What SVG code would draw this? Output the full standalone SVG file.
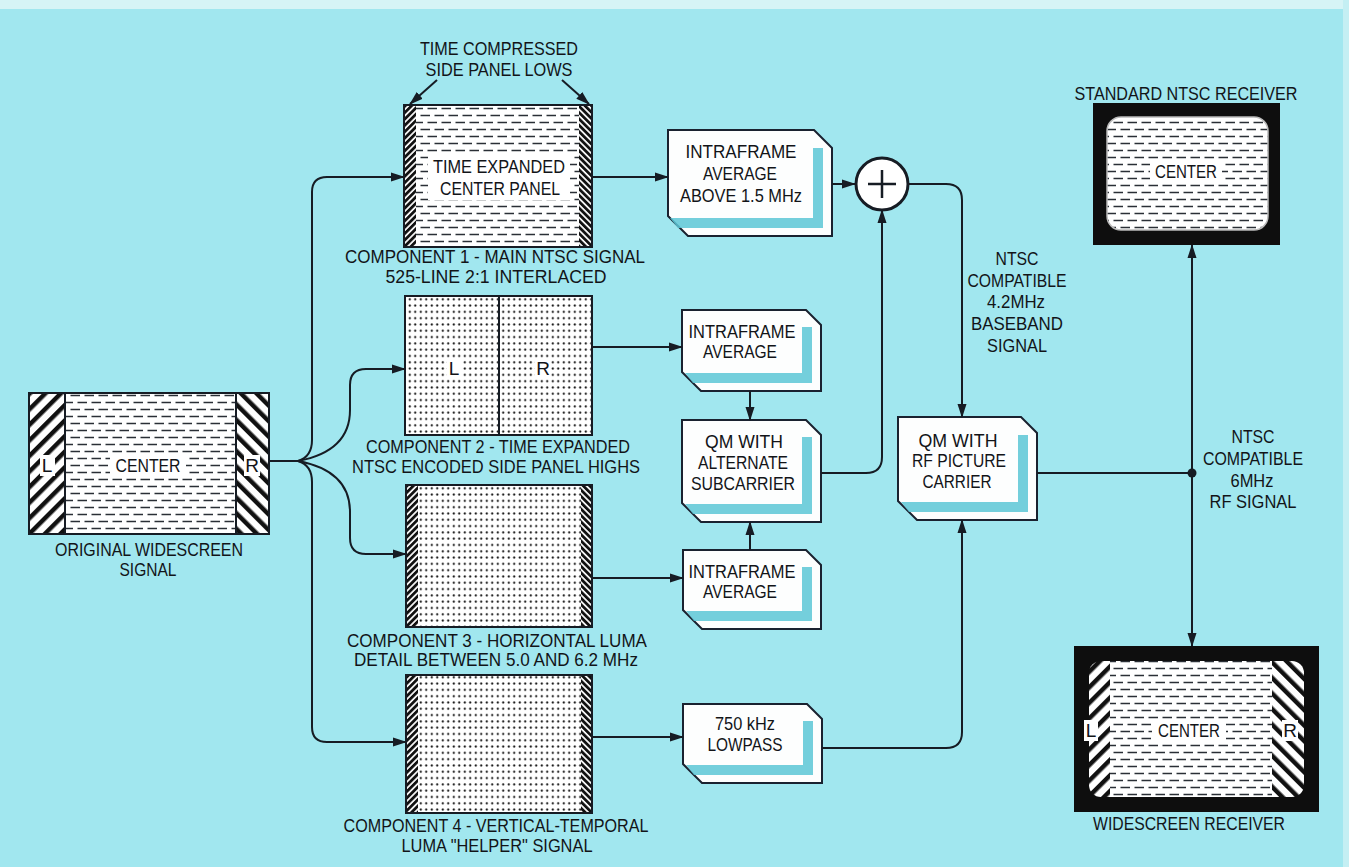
<svg xmlns="http://www.w3.org/2000/svg" width="1349" height="867" viewBox="0 0 1349 867">
<style>
text{font-family:"Liberation Sans",Arial,sans-serif;font-size:19px;fill:#121418;text-anchor:middle}
.ln{fill:none;stroke:#161c24;stroke-width:2}
.box{stroke:#161c24;stroke-width:2}
.card{fill:#fdfefe;stroke:#1a2230;stroke-width:2}
.band{fill:#5cc7d6;opacity:0.85}
.ko{fill:#fff}
</style>
<defs>
<pattern id="dash" width="14" height="14" patternUnits="userSpaceOnUse">
<rect width="14" height="14" fill="#fff"/>
<path d="M0.5,3.5H10 M7.5,10.5H14 M0,10.5H3" stroke="#2a2f36" stroke-width="1.4"/>
</pattern>
<pattern id="dots" width="5.5" height="6.3" patternUnits="userSpaceOnUse">
<rect width="5.5" height="6.3" fill="#fff"/>
<circle cx="2.75" cy="3.15" r="1.1" fill="#1a1a1a"/>
</pattern>
<pattern id="hatchL" width="11" height="11" patternUnits="userSpaceOnUse" patternTransform="rotate(45)">
<rect width="11" height="11" fill="#fff"/>
<rect width="4.5" height="11" fill="#111"/>
</pattern>
<pattern id="hatchR" width="11" height="11" patternUnits="userSpaceOnUse" patternTransform="rotate(-45)">
<rect width="11" height="11" fill="#fff"/>
<rect width="4.5" height="11" fill="#111"/>
</pattern>
<pattern id="thinL" width="4.5" height="4.5" patternUnits="userSpaceOnUse" patternTransform="rotate(45)">
<rect width="4.5" height="4.5" fill="#fff"/>
<rect width="2.8" height="4.5" fill="#111"/>
</pattern>
<pattern id="thinR" width="4.5" height="4.5" patternUnits="userSpaceOnUse" patternTransform="rotate(-45)">
<rect width="4.5" height="4.5" fill="#fff"/>
<rect width="2.8" height="4.5" fill="#111"/>
</pattern>
<marker id="ah" markerWidth="14" markerHeight="10" refX="13" refY="5" orient="auto" markerUnits="userSpaceOnUse">
<path d="M0,0.5 L14,5 L0,9.5 Z" fill="#161c24"/>
</marker>
<clipPath id="wsClip"><rect x="1089" y="661" width="215" height="136" rx="12"/></clipPath>
</defs>

<rect width="1349" height="867" fill="#a1e7ef"/>
<rect width="1349" height="9" fill="#d6f4f6"/>
<rect x="1343" y="0" width="6" height="867" fill="#c4eff3"/>

<g id="original">
<rect x="29" y="393" width="36" height="141" fill="url(#hatchL)"/>
<rect x="65" y="393" width="171" height="141" fill="url(#dash)"/>
<rect x="236" y="393" width="33" height="141" fill="url(#hatchR)"/>
<rect x="29" y="393" width="240" height="141" fill="none" class="box"/>
<line x1="65" y1="393" x2="65" y2="534" class="box"/>
<line x1="236" y1="393" x2="236" y2="534" class="box"/>
<rect x="40" y="455" width="15" height="21" class="ko"/>
<rect x="110" y="455" width="76" height="21" class="ko"/>
<rect x="244" y="455" width="16" height="21" class="ko"/>
<text x="47" y="472">L</text>
<text x="148" y="472" textLength="65" lengthAdjust="spacingAndGlyphs">CENTER</text>
<text x="252" y="472">R</text>
<text x="149" y="556" textLength="188" lengthAdjust="spacingAndGlyphs">ORIGINAL WIDESCREEN</text>
<text x="148" y="576" textLength="57" lengthAdjust="spacingAndGlyphs">SIGNAL</text>
</g>

<g id="comp1">
<text x="499" y="55" textLength="158" lengthAdjust="spacingAndGlyphs">TIME COMPRESSED</text>
<text x="499" y="76" textLength="147" lengthAdjust="spacingAndGlyphs">SIDE PANEL LOWS</text>
<rect x="404" y="105" width="12" height="142" fill="url(#thinL)"/>
<rect x="416" y="105" width="163" height="142" fill="url(#dash)"/>
<rect x="579" y="105" width="13" height="142" fill="url(#thinR)"/>
<rect x="404" y="105" width="188" height="142" fill="none" class="box"/>
<rect x="428" y="153" width="142" height="47" class="ko"/>
<text x="499" y="173" textLength="132" lengthAdjust="spacingAndGlyphs">TIME EXPANDED</text>
<text x="500" y="195" textLength="120" lengthAdjust="spacingAndGlyphs">CENTER PANEL</text>
<text x="495" y="263" textLength="300" lengthAdjust="spacingAndGlyphs">COMPONENT 1 - MAIN NTSC SIGNAL</text>
<text x="496" y="283" textLength="221" lengthAdjust="spacingAndGlyphs">525-LINE 2:1 INTERLACED</text>
</g>

<g id="comp2">
<rect x="405" y="296" width="187" height="139" fill="url(#dots)" class="box"/>
<line x1="499" y1="296" x2="499" y2="435" class="box"/>
<rect x="447" y="359" width="15" height="19" class="ko"/>
<rect x="535" y="359" width="16" height="19" class="ko"/>
<text x="454" y="375">L</text>
<text x="543" y="375">R</text>
<text x="498" y="453" textLength="264" lengthAdjust="spacingAndGlyphs">COMPONENT 2 - TIME EXPANDED</text>
<text x="496" y="473" textLength="288" lengthAdjust="spacingAndGlyphs">NTSC ENCODED SIDE PANEL HIGHS</text>
</g>

<g id="comp3">
<rect x="406" y="485" width="12" height="142" fill="url(#thinL)"/>
<rect x="418" y="485" width="163" height="142" fill="url(#dots)"/>
<rect x="581" y="485" width="11" height="142" fill="url(#thinR)"/>
<rect x="406" y="485" width="186" height="142" fill="none" class="box"/>
<text x="497" y="647" textLength="300" lengthAdjust="spacingAndGlyphs">COMPONENT 3 - HORIZONTAL LUMA</text>
<text x="496" y="666" textLength="284" lengthAdjust="spacingAndGlyphs">DETAIL BETWEEN 5.0 AND 6.2 MHz</text>
</g>

<g id="comp4">
<rect x="406" y="675" width="12" height="138" fill="url(#thinL)"/>
<rect x="418" y="675" width="163" height="138" fill="url(#dots)"/>
<rect x="581" y="675" width="11" height="138" fill="url(#thinR)"/>
<rect x="406" y="675" width="186" height="138" fill="none" class="box"/>
<text x="496" y="832" textLength="305" lengthAdjust="spacingAndGlyphs">COMPONENT 4 - VERTICAL-TEMPORAL</text>
<text x="497" y="852" textLength="191" lengthAdjust="spacingAndGlyphs">LUMA "HELPER" SIGNAL</text>
</g>

<g id="avgHigh">
<polygon class="card" points="668,130 814,130 832,148 832,236 688,236 668,216"/>
<path class="band" d="M813,148H823V228H678L670,218H813Z"/>
<text x="741" y="158" textLength="111" lengthAdjust="spacingAndGlyphs">INTRAFRAME</text>
<text x="740" y="180" textLength="74" lengthAdjust="spacingAndGlyphs">AVERAGE</text>
<text x="741" y="202" textLength="122" lengthAdjust="spacingAndGlyphs">ABOVE 1.5 MHz</text>
</g>

<g id="avg2">
<polygon class="card" points="682,310 806,310 821,325 821,391 701,391 682,372"/>
<path class="band" d="M802,327H812V383H693L685,373H802Z"/>
<text x="742" y="338" textLength="107" lengthAdjust="spacingAndGlyphs">INTRAFRAME</text>
<text x="740" y="358" textLength="74" lengthAdjust="spacingAndGlyphs">AVERAGE</text>
</g>

<g id="qmAlt">
<polygon class="card" points="682,420 806,420 821,435 821,522 701,522 682,503"/>
<path class="band" d="M802,437H812V514H693L685,504H802Z"/>
<text x="744" y="448" textLength="78" lengthAdjust="spacingAndGlyphs">QM WITH</text>
<text x="743" y="469" textLength="90" lengthAdjust="spacingAndGlyphs">ALTERNATE</text>
<text x="743" y="490" textLength="104" lengthAdjust="spacingAndGlyphs">SUBCARRIER</text>
</g>

<g id="avg3">
<polygon class="card" points="683,550 806,550 821,565 821,629 702,629 683,610"/>
<path class="band" d="M802,567H812V621H694L686,611H802Z"/>
<text x="742" y="578" textLength="107" lengthAdjust="spacingAndGlyphs">INTRAFRAME</text>
<text x="740" y="598" textLength="74" lengthAdjust="spacingAndGlyphs">AVERAGE</text>
</g>

<g id="lowpass">
<polygon class="card" points="683,704 807,704 822,719 822,783 702,783 683,764"/>
<path class="band" d="M803,721H813V775H694L686,765H803Z"/>
<text x="745" y="730" textLength="60" lengthAdjust="spacingAndGlyphs">750 kHz</text>
<text x="745" y="751" textLength="75" lengthAdjust="spacingAndGlyphs">LOWPASS</text>
</g>

<g id="qmRF">
<polygon class="card" points="898,417 1021,417 1037,433 1037,520 917,520 898,501"/>
<path class="band" d="M1018,435H1028V512H909L901,502H1018Z"/>
<text x="958" y="447" textLength="79" lengthAdjust="spacingAndGlyphs">QM WITH</text>
<text x="959" y="467" textLength="94" lengthAdjust="spacingAndGlyphs">RF PICTURE</text>
<text x="957" y="488" textLength="69" lengthAdjust="spacingAndGlyphs">CARRIER</text>
</g>

<g id="sum">
<circle cx="882" cy="184" r="26" fill="#fff" stroke="#161c24" stroke-width="3"/>
<path d="M882,170V198M868,184H896" stroke="#161c24" stroke-width="2.5"/>
</g>

<g id="stdRx">
<text x="1186" y="100" textLength="223" lengthAdjust="spacingAndGlyphs">STANDARD NTSC RECEIVER</text>
<rect x="1093" y="103" width="187" height="142" fill="#0e0e0e"/>
<rect x="1107" y="117" width="161" height="113" rx="14" fill="url(#dash)" stroke="#bbb" stroke-width="1.5"/>
<rect x="1150" y="161" width="72" height="21" class="ko"/>
<text x="1186" y="178" textLength="62" lengthAdjust="spacingAndGlyphs">CENTER</text>
</g>

<g id="wideRx">
<rect x="1074" y="646" width="245" height="166" fill="#0e0e0e"/>
<g clip-path="url(#wsClip)">
<rect x="1089" y="661" width="21" height="136" fill="url(#hatchL)"/>
<rect x="1110" y="661" width="162" height="136" fill="url(#dash)"/>
<rect x="1272" y="661" width="32" height="136" fill="url(#hatchR)"/>
</g>
<rect x="1084" y="720" width="14" height="21" class="ko"/>
<rect x="1152" y="720" width="74" height="21" class="ko"/>
<rect x="1282" y="720" width="16" height="21" class="ko"/>
<text x="1091" y="737">L</text>
<text x="1189" y="737" textLength="62" lengthAdjust="spacingAndGlyphs">CENTER</text>
<text x="1290" y="737">R</text>
<text x="1189" y="830" textLength="192" lengthAdjust="spacingAndGlyphs">WIDESCREEN RECEIVER</text>
</g>

<g id="labels">
<text x="1017" y="265" textLength="43" lengthAdjust="spacingAndGlyphs">NTSC</text>
<text x="1017" y="287" textLength="99" lengthAdjust="spacingAndGlyphs">COMPATIBLE</text>
<text x="1016" y="308" textLength="58" lengthAdjust="spacingAndGlyphs">4.2MHz</text>
<text x="1017" y="330" textLength="92" lengthAdjust="spacingAndGlyphs">BASEBAND</text>
<text x="1017" y="352" textLength="60" lengthAdjust="spacingAndGlyphs">SIGNAL</text>
<text x="1253" y="443" textLength="43" lengthAdjust="spacingAndGlyphs">NTSC</text>
<text x="1253" y="465" textLength="100" lengthAdjust="spacingAndGlyphs">COMPATIBLE</text>
<text x="1252" y="487" textLength="43" lengthAdjust="spacingAndGlyphs">6MHz</text>
<text x="1253" y="508" textLength="87" lengthAdjust="spacingAndGlyphs">RF SIGNAL</text>
</g>

<g id="connectors">
<path class="ln" d="M269,461H298"/>
<path class="ln" marker-end="url(#ah)" d="M298,461C308,458 312,450 312,440V192Q312,177 327,177H404"/>
<path class="ln" marker-end="url(#ah)" d="M298,461C308,464 312,472 312,482V727Q312,742 327,742H406"/>
<path class="ln" marker-end="url(#ah)" d="M298,461C330,455 350,440 350,410V385Q350,369 366,369H405"/>
<path class="ln" marker-end="url(#ah)" d="M298,461C330,467 350,482 350,512V538Q350,554 366,554H406"/>
<path class="ln" marker-end="url(#ah)" d="M437,80L410,104"/>
<path class="ln" marker-end="url(#ah)" d="M562,80L589,104"/>
<path class="ln" marker-end="url(#ah)" d="M592,177H668"/>
<path class="ln" marker-end="url(#ah)" d="M592,347H682"/>
<path class="ln" marker-end="url(#ah)" d="M592,578H683"/>
<path class="ln" marker-end="url(#ah)" d="M592,737H683"/>
<path class="ln" marker-end="url(#ah)" d="M832,184H855"/>
<path class="ln" marker-end="url(#ah)" d="M750,391V420"/>
<path class="ln" marker-end="url(#ah)" d="M750,550V522"/>
<path class="ln" marker-end="url(#ah)" d="M821,473H866Q882,473 882,457V210"/>
<path class="ln" marker-end="url(#ah)" d="M908,184H946Q962,184 962,200V417"/>
<path class="ln" marker-end="url(#ah)" d="M822,748H946Q962,748 962,732V520"/>
<path class="ln" d="M1037,473H1192"/>
<path class="ln" marker-end="url(#ah)" d="M1192,473V245"/>
<path class="ln" marker-end="url(#ah)" d="M1192,473V646"/>
<circle cx="1192" cy="473" r="4.5" fill="#161c24"/>
</g>
</svg>
